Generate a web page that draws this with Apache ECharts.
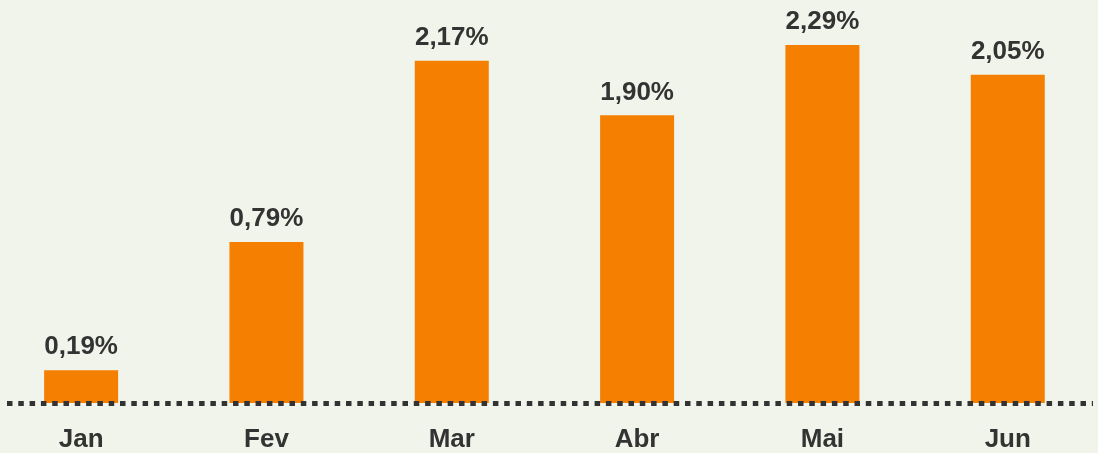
<!DOCTYPE html>
<html>
<head>
<meta charset="utf-8">
<script src="https://cdn.jsdelivr.net/npm/echarts@6/dist/echarts.min.js"></script>
<style>
  html, body { margin: 0; padding: 0; background: #f1f4ea; }
  #chart { width: 1098px; height: 453px; }
</style>
</head>
<body>
<div id="chart"></div>
<script>
// meses e taxas (rótulos)
const months = ['Jan', 'Fev', 'Mar', 'Abr', 'Mai', 'Jun'];
const rateLabels = ['0,19%', '0,79%', '2,17%', '1,90%', '2,29%', '2,05%'];
// altura das barras (mesma escala, em %)
const barHeights = [0.21, 1.03, 2.19, 1.84, 2.29, 2.10];

const FONT = '"Liberation Sans", Arial, sans-serif';
const TEXT = '#333333';

let myChart = echarts.init(document.getElementById('chart'));
let option = {
  backgroundColor: '#f1f4ea',
  animation: false,
  grid: { left: 7, right: 5, top: 0, bottom: 50 },
  xAxis: {
    type: 'value',
    min: -0.4,
    max: 5.46,
    splitLine: { show: false },
    axisTick: { show: false },
    axisLine: {
      show: true,
      onZero: false,
      lineStyle: { color: '#333333', width: 5, type: [5.5, 5.8], cap: 'butt' }
    },
    axisLabel: {
      customValues: [0, 1, 2, 3, 4, 5],
      formatter: function (v) { return months[Math.round(v)]; },
      margin: 24,
      color: TEXT,
      fontFamily: FONT,
      fontWeight: 'bold',
      fontSize: 26
    },
    z: 10
  },
  yAxis: {
    type: 'value',
    min: 0,
    max: 2.578,
    show: false
  },
  series: [{
    type: 'bar',
    barWidth: 74,
    itemStyle: { color: '#f57f00' },
    data: barHeights.map((h, i) => [i, h]),
    label: {
      show: true,
      position: 'top',
      distance: 10,
      color: TEXT,
      fontFamily: FONT,
      fontWeight: 'bold',
      fontSize: 26,
      formatter: function (p) { return rateLabels[p.dataIndex]; }
    }
  }]
};
myChart.setOption(option);
</script>
</body>
</html>
